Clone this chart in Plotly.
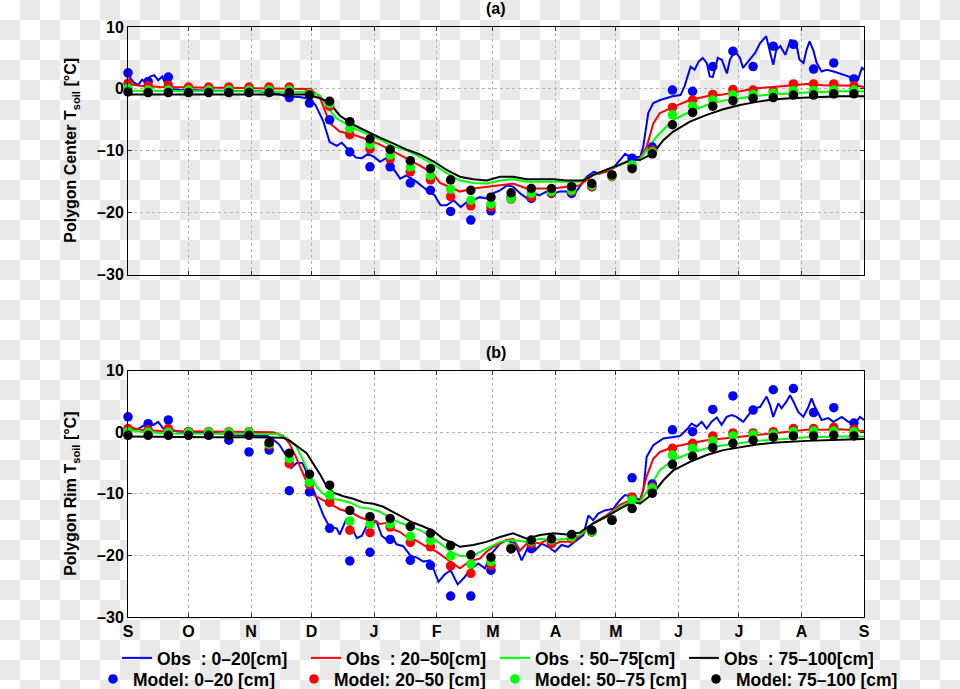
import plotly.graph_objects as go

W, H = 960, 689

# ---------------- axis labels ----------------
month_days = [0, 30, 61, 91, 122, 153, 181, 212, 242, 273, 303, 334, 365]
month_labels = ["S", "O", "N", "D", "J", "F", "M", "A", "M", "J", "J", "A", "S"]
y_ticks = [-30, -20, -10, 0, 10]
y_tick_labels = ["\u201330", "\u201320", "\u201310", "0", "10"]

obs_names = ["Obs\u00a0\u00a0: 0\u201320[cm]", "Obs\u00a0\u00a0: 20\u201350[cm]",
             "Obs\u00a0\u00a0: 50\u201375[cm]", "Obs\u00a0\u00a0: 75\u2013100[cm]"]
model_names = ["Model: 0\u201320 [cm]", "Model: 20\u201350 [cm]",
               "Model: 50\u201375 [cm]", "Model: 75\u2013100 [cm]"]
colors = ["#0000ff", "#ff0000", "#00ff00", "#000000"]

# ---------------- model output (every 10 days from 1 Sep) ----------------
model_days = [0, 10, 20, 30, 40, 50, 60, 70, 80, 90, 100, 110, 120, 130, 140, 150, 160, 170,
              180, 190, 200, 210, 220, 230, 240, 250, 260, 270, 280, 290, 300, 310, 320, 330,
              340, 350, 360]

a_mod_blue = [2.6, 1.2, 1.9, 0.0, 0.0, 0.0, 0.0, 0.0, -1.4, -2.3, -5.0, -10.2, -12.6, -12.6,
              -15.2, -16.4, -19.8, -21.2, -19.7, -17.5, -17.7, -16.9, -16.9, -15.8, -14.0,
              -11.2, -9.4, -0.2, -0.4, 3.6, 6.1, 3.6, 6.9, 7.2, 3.2, 4.2, 1.6]
a_mod_red = [0.9, 0.5, 0.6, 0.3, 0.3, 0.3, 0.3, 0.3, 0.3, -0.6, -2.8, -7.4, -9.7, -11.3,
             -13.4, -14.7, -17.4, -18.9, -19.1, -17.8, -17.5, -16.8, -16.6, -15.8, -14.2,
             -12.5, -9.9, -3.0, -1.8, -0.9, -0.1, -0.2, -0.4, 0.8, 0.8, 0.8, 0.5]
a_mod_green = [0.1, -0.2, -0.2, -0.2, -0.2, -0.2, -0.2, -0.2, -0.2, -0.8, -2.4, -6.4, -9.0,
               -10.7, -12.6, -14.0, -16.2, -18.0, -18.6, -17.7, -16.9, -16.6, -16.4, -15.6,
               -14.1, -12.3, -10.2, -4.2, -2.8, -1.8, -1.0, -0.9, -0.7, -0.3, -0.3, -0.2, -0.2]
a_mod_black = [-0.5, -0.6, -0.6, -0.6, -0.6, -0.6, -0.6, -0.6, -0.6, -1.0, -2.0, -5.3, -8.1,
               -9.8, -11.6, -12.9, -14.7, -16.4, -17.5, -16.8, -16.1, -16.1, -15.8, -15.3,
               -13.9, -12.9, -10.5, -5.8, -3.8, -2.8, -1.9, -1.5, -1.4, -1.0, -1.0, -0.8, -0.8]

b_mod_blue = [2.5, 1.4, 2.0, 0.1, -0.3, -1.3, -3.2, -2.9, -9.5, -9.7, -15.6, -20.9, -19.5,
              -17.4, -20.8, -21.6, -26.6, -26.6, -22.4, -18.9, -18.9, -17.8, -16.9, -16.2,
              -14.2, -7.4, -8.4, 0.4, 0.1, 3.7, 5.9, 3.6, 6.9, 7.1, 3.2, 4.0, 1.5]
b_mod_red = [0.6, 0.4, 0.6, 0.1, 0.1, 0.1, 0.1, -2.1, -5.1, -8.5, -11.4, -15.9, -16.3, -15.4,
             -17.9, -18.6, -21.7, -22.9, -21.6, -18.9, -18.1, -18.1, -17.3, -16.2, -14.3,
             -10.5, -8.9, -2.6, -1.8, -0.6, -0.1, -0.1, 0.1, 0.6, 0.6, 0.8, 0.5]
b_mod_green = [0.1, 0.0, 0.0, 0.0, 0.0, 0.0, 0.0, -1.9, -4.3, -8.1, -10.2, -14.4, -14.9,
               -14.9, -16.9, -17.6, -20.1, -21.4, -21.0, -18.7, -17.7, -17.5, -17.0, -16.2,
               -14.3, -11.0, -9.1, -3.7, -2.6, -1.4, -0.6, -0.4, -0.3, 0.1, 0.2, 0.2, 0.1]
b_mod_black = [-0.5, -0.5, -0.5, -0.5, -0.5, -0.5, -0.5, -1.7, -3.4, -6.8, -8.6, -12.7,
               -13.7, -14.0, -15.3, -16.4, -18.4, -19.9, -20.3, -18.9, -17.5, -17.3, -16.6,
               -15.9, -14.3, -12.4, -9.9, -5.2, -3.9, -2.5, -1.8, -1.3, -0.8, -0.6, -0.6,
               -0.5, -0.6]

# ---------------- observations (days after 1 Sep, degC) ----------------
a_obs_blue_d = [0, 3, 5, 7, 9, 11, 13, 15, 17, 19, 22, 26, 45, 65, 74, 78, 85, 90, 93, 96.8,
                100, 103.5, 106, 108.5, 113, 116, 119, 122, 125, 128, 131.5, 135, 138, 143,
                148, 152, 155, 158, 161.5, 165, 168, 171, 174.5, 178, 181, 184.5, 188, 191,
                194.5, 198, 201, 204, 207.5, 211, 214, 217.5, 221, 224, 227.5, 231, 234, 237,
                241, 244, 246.5, 249, 254, 255.5, 258, 260.5, 264, 270, 274, 276, 279, 281,
                283, 285, 287, 288.5, 290, 292.5, 294.5, 297, 298.5, 301, 303.5, 305, 308.5,
                311, 313.5, 316.5, 318.5, 320, 321.5, 323.5, 326, 328.5, 330, 331.5, 333,
                335, 336.5, 338, 340, 341.5, 344, 346.5, 350, 353, 356.5, 359.5, 362, 364,
                365]
a_obs_blue_t = [2.2, 1.0, 0.6, 1.5, 1.0, 2.0, 2.2, 1.4, 2.0, 0.5, 0.0, -0.2, -0.3, -0.4,
                -0.8, -1.2, -1.3, -1.6, -2.6, -5.2, -8.6, -9.2, -8.7, -9.5, -11.1, -11.2,
                -10.5, -11.0, -11.8, -11.2, -12.8, -14.5, -14.0, -15.0, -16.3, -17.2, -18.8,
                -18.8, -18.0, -19.1, -18.3, -18.0, -17.5, -17.7, -16.9, -16.4, -15.6, -15.8,
                -16.9, -17.7, -16.9, -17.2, -16.6, -16.9, -16.6, -16.6, -17.2, -15.8, -14.2,
                -13.4, -13.7, -13.1, -12.6, -11.5, -10.5, -11.0, -11.0, -9.4, -3.9, -2.3,
                -1.8, -1.2, -1.0, 0.4, 3.6, 3.1, 4.4, 5.0, 4.2, 2.0, 1.9, 5.0, 4.7, 2.5, 4.7,
                6.1, 5.0, 3.4, 4.7, 5.8, 7.4, 8.5, 5.8, 3.9, 6.3, 6.9, 5.5, 7.9, 7.7, 7.1,
                4.7, 4.2, 6.3, 7.7, 6.1, 4.2, 2.8, 3.1, 2.8, 2.5, 2.1, 1.7, 1.5, 3.4, 3.1]

a_obs_red_d = [0, 6, 16, 40, 60, 80, 90, 95, 97.7, 100, 105, 111.7, 118, 125, 131.6, 138,
               144.8, 151.4, 154.7, 161.3, 164.6, 171.2, 177.8, 184.5, 191, 197.7, 204.3,
               211, 217.5, 224, 230.7, 237.3, 244, 249, 253.9, 257.2, 260.5, 263.8, 270.4,
               278.7, 287, 295.2, 303.5, 311.8, 320, 328.3, 336.5, 344.8, 353, 361.3, 365]
a_obs_red_t = [0.8, 0.5, 0.3, 0.2, 0.2, 0.1, 0.0, -1.2, -3.5, -5.5, -6.9, -7.4, -8.1, -9.0,
               -10.1, -11.2, -12.4, -13.7, -15.2, -16.1, -16.6, -16.1, -15.8, -15.6, -15.3,
               -16.1, -16.1, -16.1, -15.8, -15.6, -13.9, -13.4, -12.3, -11.5, -11.2, -9.4,
               -5.6, -3.9, -2.9, -1.8, -1.2, -0.9, -0.4, 0.1, 0.3, 0.5, 0.8, 0.6, 0.6, 0.5,
               0.3]

a_obs_green_d = [0, 20, 40, 60, 80, 90, 95, 98.5, 103.5, 111.7, 118.5, 125, 131.5, 138,
                 144.8, 151.4, 158, 164.6, 171.2, 177.8, 184.5, 191, 197.7, 204.3, 211, 217.5,
                 224, 230.7, 237.3, 244, 250.6, 253.9, 257.2, 262.2, 270.4, 278.7, 287, 295.2,
                 303.5, 311.8, 320, 328.3, 336.5, 344.8, 353, 365]
a_obs_green_t = [-0.3, -0.4, -0.4, -0.4, -0.4, -0.5, -1.0, -2.8, -4.8, -6.3, -7.3, -8.2,
                 -9.3, -9.9, -11.0, -12.2, -13.6, -14.8, -15.2, -15.3, -14.8, -14.6, -15.0,
                 -15.0, -15.0, -15.0, -15.0, -13.9, -13.1, -12.3, -11.2, -11.4, -9.9, -7.7,
                 -5.0, -3.7, -2.6, -1.9, -1.5, -1.1, -0.9, -0.7, -0.6, -0.5, -0.4, -0.4]

a_obs_black_d = [0, 20, 40, 60, 80, 88, 92, 96, 100, 105, 111.7, 118.5, 125, 131.5, 138,
                 144.8, 151.4, 158, 164.6, 171.2, 177.8, 184.5, 191, 197.7, 204.3, 211, 217.5,
                 225.8, 230.7, 237.3, 244, 250.6, 253.9, 260.5, 265.5, 270.4, 278.7, 287,
                 295.2, 303.5, 311.8, 320, 328.3, 336.5, 353, 365]
a_obs_black_t = [-0.9, -0.9, -0.9, -0.9, -0.9, -0.9, -1.2, -1.6, -2.3, -4.3, -5.8, -6.9,
                 -7.9, -8.8, -9.8, -10.6, -11.7, -13.1, -14.2, -14.6, -14.8, -14.2, -14.2,
                 -14.6, -14.6, -14.6, -14.8, -14.8, -13.9, -13.1, -12.3, -11.4, -11.5, -10.4,
                 -8.3, -6.9, -5.3, -4.2, -3.3, -2.6, -2.1, -1.7, -1.5, -1.4, -1.2, -1.2]

b_obs_blue_d = [0, 4, 9, 12.6, 15, 17.5, 21, 26, 40, 52, 69, 72, 75, 78.7, 81, 83.6, 86.5,
                88.6, 91.5, 94, 96.9, 100, 103.5, 105, 108, 111, 113.5, 116, 118.4, 121,
                123.3, 125.8, 128.5, 131, 133.2, 136.5, 140, 143.5, 146.5, 149.8, 151.5, 154,
                157, 160, 163.5, 167, 170.4, 173.7, 177, 180.3, 184.5, 187.8, 191.9, 195.2,
                198.5, 201.8, 205.1, 208.4, 211.7, 215, 218.3, 222.5, 225.8, 228.3, 230.7,
                233.2, 236.5, 240.7, 244, 246.4, 250.6, 253.9, 255.6, 257.2, 260.5, 265.5,
                270.4, 273.7, 277, 279.5, 282, 284.5, 287, 289.4, 292, 294.4, 296.9, 299.4,
                301.8, 305.1, 308.4, 310.9, 313.4, 315, 316.7, 318.4, 320, 322.5, 324.1,
                326.6, 328.3, 330, 332.4, 334.9, 337.4, 339, 340.7, 344, 347.3, 349.8, 354,
                357.2, 360.5, 363, 365]
b_obs_blue_t = [0.9, 0.4, 1.3, 1.2, 1.7, 0.6, 0.4, 0.1, 0.0, -0.4, -0.6, -1.2, -2.0, -3.9,
                -5.8, -5.0, -5.0, -6.5, -9.0, -11.2, -13.5, -15.4, -15.6, -16.6, -14.3,
                -15.5, -17.2, -16.8, -15.2, -14.8, -14.5, -16.8, -17.5, -17.0, -18.2, -18.5,
                -20.0, -20.4, -21.0, -20.8, -22.2, -24.3, -23.1, -22.4, -24.7, -23.5, -22.1,
                -21.3, -22.1, -19.7, -18.1, -17.5, -18.1, -20.8, -18.6, -19.2, -18.1, -18.6,
                -19.4, -18.3, -18.6, -17.5, -16.7, -13.5, -14.3, -13.2, -12.7, -12.4, -11.0,
                -10.2, -10.5, -11.0, -9.4, -4.0, -2.1, -1.0, -0.7, -0.6, 0.4, 1.4, 0.9, 1.7,
                0.6, 1.7, 2.4, 1.2, 2.5, 2.8, 2.5, 1.7, 3.1, 3.9, 4.1, 5.0, 5.8, 4.4, 2.5,
                4.7, 3.9, 5.0, 6.0, 5.0, 3.3, 2.5, 4.1, 5.5, 4.1, 2.0, 2.3, 1.7, 2.5, 1.7,
                1.4, 2.5, 2.0]

b_obs_red_d = [0, 6, 16, 40, 60, 72, 77, 80, 83, 86, 89, 92, 95.2, 100, 105, 108.4, 111.7,
               115, 118.4, 121.6, 125, 128.3, 131.6, 134.9, 138.2, 143, 148.1, 153, 158,
               161.3, 164.6, 168, 171.2, 174.5, 177.8, 181.2, 184.5, 187.8, 191, 194.4,
               197.7, 201, 204.3, 207.6, 211, 214.2, 217.5, 220.8, 225.8, 230.7, 237.3, 244,
               250.6, 253.9, 257.2, 260.5, 263.8, 270.4, 278.7, 287, 295.2, 303.5, 311.8,
               320, 328.3, 336.5, 344.8, 353, 365]
b_obs_red_t = [0.9, 0.4, 0.2, 0.1, 0.1, 0.0, -0.6, -1.8, -3.8, -6.0, -8.4, -10.2, -10.8,
               -11.6, -12.5, -12.9, -13.2, -13.8, -14.2, -14.2, -14.9, -14.7, -15.8, -16.2,
               -17.0, -17.6, -18.6, -19.4, -20.6, -21.4, -22.1, -21.3, -20.8, -20.5, -19.4,
               -18.6, -18.1, -17.5, -17.3, -19.2, -18.1, -17.8, -18.1, -17.5, -18.3, -17.8,
               -17.8, -17.5, -16.4, -14.8, -13.5, -11.8, -10.8, -11.3, -7.2, -4.3, -3.2,
               -2.4, -1.8, -1.3, -1.0, -0.7, -0.5, -0.2, 0.1, 0.4, 0.4, 0.5, 0.2]

b_obs_green_d = [0, 6, 20, 40, 60, 74, 79, 83.7, 87, 90.3, 93.6, 96.9, 100.2, 105, 110, 115,
                 120, 125, 130, 135, 139.8, 144.8, 149.8, 154.7, 159.7, 164.6, 171.2, 177.8,
                 184.5, 191, 197.7, 204.3, 211, 217.5, 224.1, 230.7, 237.3, 244, 250.6,
                 253.9, 258.9, 263.8, 270.4, 278.7, 287, 295.2, 303.5, 311.8, 320, 328.3,
                 336.5, 353, 365]
b_obs_green_t = [0.5, 0.1, -0.2, -0.3, -0.3, -0.3, -1.0, -2.4, -4.6, -7.0, -8.9, -10.0,
                 -10.8, -11.0, -11.4, -12.2, -12.4, -12.9, -13.9, -14.7, -15.3, -15.9, -16.8,
                 -18.0, -19.3, -20.1, -20.0, -18.9, -17.8, -17.5, -17.8, -17.3, -17.5, -17.3,
                 -16.7, -14.8, -13.7, -12.1, -11.0, -11.3, -8.9, -6.1, -4.5, -3.4, -2.6, -2.1,
                 -1.7, -1.4, -1.2, -1.0, -0.8, -0.7, -0.7]

b_obs_black_d = [0, 20, 40, 60, 77, 80.3, 83.7, 88.6, 91.9, 95.2, 98.5, 101.8, 106.8, 111.7,
                 116.7, 121.7, 126.6, 131.6, 136.5, 141.5, 146.4, 151.4, 156.3, 161.3, 164.6,
                 171.2, 177.8, 184.5, 191, 197.7, 204.3, 211, 217.5, 224.1, 230.7, 237.3, 244,
                 250.6, 253.9, 260.5, 265.5, 270.4, 278.7, 287, 295.2, 303.5, 311.8, 320,
                 328.3, 336.5, 353, 365]
b_obs_black_t = [-0.7, -0.8, -0.8, -0.8, -0.9, -1.4, -2.2, -3.4, -5.1, -6.8, -8.8, -9.8,
                 -10.4, -10.8, -11.4, -11.6, -12.1, -13.0, -13.9, -14.7, -15.3, -16.0, -17.3,
                 -18.0, -18.6, -18.3, -17.8, -17.0, -16.4, -17.3, -16.7, -16.4, -16.6, -16.3,
                 -14.8, -13.7, -12.4, -11.3, -11.6, -9.9, -7.8, -6.2, -4.8, -3.7, -2.9, -2.4,
                 -2.0, -1.7, -1.5, -1.4, -1.2, -1.1]

panel_titles = ["(a)", "(b)"]
y_titles = ["Polygon Center T<sub>soil</sub> [\u00b0C]", "Polygon Rim T<sub>soil</sub> [\u00b0C]"]

# ---------------- figure ----------------
FONT = "Liberation Sans"
fig = go.Figure()

panels = [
    ("x", "y",
     [(a_obs_blue_d, a_obs_blue_t), (a_obs_red_d, a_obs_red_t),
      (a_obs_green_d, a_obs_green_t), (a_obs_black_d, a_obs_black_t)],
     [a_mod_blue, a_mod_red, a_mod_green, a_mod_black]),
    ("x2", "y2",
     [(b_obs_blue_d, b_obs_blue_t), (b_obs_red_d, b_obs_red_t),
      (b_obs_green_d, b_obs_green_t), (b_obs_black_d, b_obs_black_t)],
     [b_mod_blue, b_mod_red, b_mod_green, b_mod_black]),
]

for pi, (xa, ya, obs, mods) in enumerate(panels):
    first = pi == 0
    for i, (d, t) in enumerate(obs):
        fig.add_trace(go.Scatter(
            x=d, y=t, mode="lines", name=obs_names[i], xaxis=xa, yaxis=ya,
            line=dict(color=colors[i], width=2), showlegend=first, legend="legend"))
    for i, m in enumerate(mods):
        fig.add_trace(go.Scatter(
            x=model_days, y=m, mode="markers", name=model_names[i], xaxis=xa, yaxis=ya,
            marker=dict(color=colors[i], size=9.5, line=dict(width=0)),
            cliponaxis=False, showlegend=first, legend="legend2"))

# geometry
L, R, T, B = 128, 96, 27, 72
pw, ph = W - L - R, H - T - B
dom_a = [0.5805, 1.0]
dom_b = [0.0, 0.4175]

axis_common = dict(
    range=[0, 365], tickvals=month_days, ticktext=month_labels, ticks="inside", ticklen=4,
    tickcolor="#333333", showline=True, linecolor="black", linewidth=1, mirror="ticks",
    showgrid=True, gridcolor="#b4b4b4", griddash="dot", gridwidth=1, zeroline=False,
    tickfont=dict(family=FONT, size=16, color="black", weight="bold"),
)
yaxis_common = dict(
    range=[-30, 10], tickvals=y_ticks, ticktext=y_tick_labels, ticks="inside", ticklen=4,
    tickcolor="#333333", showline=True, linecolor="black", linewidth=1, mirror="ticks",
    showgrid=True, gridcolor="#b4b4b4", griddash="dot", gridwidth=1, zeroline=False,
    tickfont=dict(family=FONT, size=16, color="black", weight="bold"),
)

# checkerboard backdrop (the reference's transparent background), 20 px cells,
# built as one path in paper coordinates
cell = 20
parts = []
for r in range((H + cell - 1) // cell):
    for c in range((W + cell - 1) // cell):
        if (r + c) % 2 == 1:
            px0, px1 = c * cell, min((c + 1) * cell, W)
            py0, py1 = r * cell, min((r + 1) * cell, H)
            x0, x1 = (px0 - L) / pw, (px1 - L) / pw
            y0, y1 = (H - B - py0) / ph, (H - B - py1) / ph
            parts.append(f"M{x0:.5f},{y0:.5f}H{x1:.5f}V{y1:.5f}H{x0:.5f}Z")
checker_path = "".join(parts)

title_font = dict(family=FONT, size=16, color="black", weight="bold")
ytitle_font = dict(family=FONT, size=16, color="black", weight="bold")
legend_font = dict(family=FONT, size=17.5, color="black", weight="bold")

fig.update_layout(
    width=W, height=H,
    margin=dict(l=L, r=R, t=T, b=B, autoexpand=False),
    paper_bgcolor="white", plot_bgcolor="rgba(0,0,0,0)",
    font=dict(family=FONT, size=16, color="black"),
    xaxis=dict(axis_common, domain=[0, 1], anchor="y", showticklabels=False),
    yaxis=dict(yaxis_common, domain=dom_a, anchor="x"),
    xaxis2=dict(axis_common, domain=[0, 1], anchor="y2", showticklabels=True),
    yaxis2=dict(yaxis_common, domain=dom_b, anchor="x2"),
    shapes=[
        dict(type="path", xref="paper", yref="paper", path=checker_path,
             fillcolor="#e9e9e9", line=dict(width=0), layer="below"),
        dict(type="rect", xref="paper", yref="paper", x0=0, x1=1, y0=dom_b[0],
             y1=dom_b[1], fillcolor="white", line=dict(width=0), layer="below"),
    ],
    annotations=[
        dict(text=panel_titles[0], x=0.5, y=dom_a[1], xref="paper", yref="paper",
             xanchor="center", yanchor="bottom", yshift=8, showarrow=False, font=title_font),
        dict(text=panel_titles[1], x=0.5, y=dom_b[1], xref="paper", yref="paper",
             xanchor="center", yanchor="bottom", yshift=8, showarrow=False, font=title_font),
        dict(text=y_titles[0], textangle=-90, x=(72 - L) / pw, y=sum(dom_a) / 2,
             xref="paper", yref="paper", xanchor="center", yanchor="middle",
             showarrow=False, font=ytitle_font),
        dict(text=y_titles[1], textangle=-90, x=(72 - L) / pw, y=sum(dom_b) / 2,
             xref="paper", yref="paper", xanchor="center", yanchor="middle",
             showarrow=False, font=ytitle_font),
    ],
    legend=dict(orientation="h", x=(117 - L) / pw, xanchor="left", y=-(658 - 617) / ph,
                yanchor="middle", entrywidth=144, bgcolor="rgba(0,0,0,0)", font=legend_font),
    legend2=dict(orientation="h", x=(93 - L) / pw, xanchor="left", y=-(679 - 617) / ph,
                 yanchor="middle", entrywidth=156, bgcolor="rgba(0,0,0,0)", font=legend_font),
)

fig.write_html("out.html", config={"displayModeBar": False},
               post_script="document.body.style.margin='0';"
                           "document.body.style.overflow='hidden';")
